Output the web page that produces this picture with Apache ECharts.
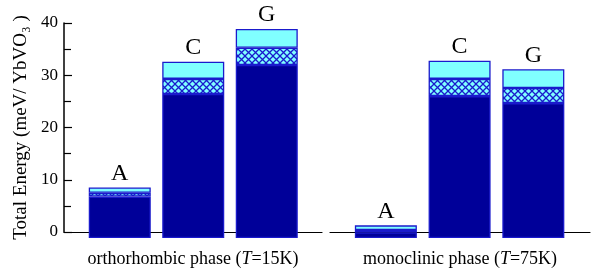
<!DOCTYPE html>
<html>
<head>
<meta charset="utf-8">
<script src="https://cdn.jsdelivr.net/npm/echarts@6/dist/echarts.min.js"></script>
<style>
  html, body { margin: 0; padding: 0; background: #fff; }
  #main { width: 597px; height: 273px; }
</style>
</head>
<body>
<div id="main"></div>
<script>
var categories = ['A', 'C', 'G'];
// orthorhombic phase (T=15K)
var orthoBase = [7.7, 26.8, 32.2];
var orthoHatch = [0.7, 2.8, 3.2];
var orthoTop = [1.0, 3.2, 3.5];
// monoclinic phase (T=75K)
var monoBase = [1.05, 26.4, 25.1];
var monoHatch = [0.45, 3.2, 2.8];
var monoTop = [0.85, 3.4, 3.5];
var yTicks = [0, 10, 20, 30, 40];

var navy = '#000099';
var cyan = '#80ffff';
var edge = '#1a1acc';
var serif = '"Liberation Serif", "DejaVu Serif", serif';

// cross hatch fill
var hc = document.createElement('canvas');
hc.width = 7; hc.height = 7;
var ctx = hc.getContext('2d');
ctx.fillStyle = cyan;
ctx.fillRect(0, 0, 7, 7);
ctx.strokeStyle = '#1a1acc';
ctx.lineWidth = 1.3;
ctx.beginPath();
ctx.moveTo(0, 0); ctx.lineTo(7, 7);
ctx.moveTo(7, 0); ctx.lineTo(0, 7);
ctx.stroke();
var hatch = { image: hc, repeat: 'repeat' };

function seg(name, vals, stack, idx, fill, withLabel) {
  var s = {
    name: name,
    type: 'bar',
    stack: stack,
    xAxisIndex: idx,
    yAxisIndex: idx,
    barWidth: 62,
    data: vals,
    itemStyle: { color: fill, borderColor: edge, borderWidth: 1.3 },
    emphasis: { disabled: true }
  };
  if (withLabel) {
    s.label = {
      show: true,
      position: 'top',
      distance: 2,
      fontFamily: serif,
      fontSize: 24,
      color: '#000',
      formatter: function (p) { return categories[p.dataIndex]; }
    };
  }
  return s;
}

var chart = echarts.init(document.getElementById('main'));

var rich = {
  n: { fontFamily: serif, fontSize: 18, color: '#000' },
  i: { fontFamily: serif, fontSize: 18, fontStyle: 'italic', color: '#000' }
};

function frameX(grid, name) {
  return {
    gridIndex: grid,
    type: 'value',
    min: 0, max: 1,
    axisLine: { show: true, lineStyle: { color: '#000', width: 1.2 } },
    axisTick: { show: false },
    axisLabel: { show: false },
    splitLine: { show: false },
    name: name,
    nameLocation: 'middle',
    nameGap: 18,
    nameTextStyle: { rich: rich }
  };
}

function barX(grid) {
  return {
    gridIndex: grid,
    type: 'category',
    data: categories,
    show: false
  };
}

function hiddenY(grid) {
  return {
    gridIndex: grid,
    type: 'value',
    min: yTicks[0],
    max: yTicks[yTicks.length - 1],
    interval: 10,
    show: false
  };
}

var option = {
  animation: false,
  grid: [
    { left: 64, right: 275, top: 23, bottom: 35 },
    { left: 83, width: 220.5, top: 23, bottom: 35 },
    { left: 330, right: 7, top: 23, bottom: 35 },
    { left: 349, width: 221.2, top: 23, bottom: 35 }
  ],
  xAxis: [
    frameX(0, '{n|orthorhombic phase (}{i|T}{n|=15K)}'),
    barX(1),
    frameX(2, '{n|monoclinic phase (}{i|T}{n|=75K)}'),
    barX(3)
  ],
  yAxis: [
    {
      gridIndex: 0,
      type: 'value',
      min: yTicks[0],
      max: yTicks[yTicks.length - 1],
      interval: 10,
      axisLine: { show: true, lineStyle: { color: '#000', width: 1.5 } },
      axisTick: { show: true, inside: true, length: 8, lineStyle: { color: '#000', width: 1.2 } },
      minorTick: { show: true, splitNumber: 2, length: 7, lineStyle: { color: '#000', width: 1.2 } },
      axisLabel: { fontFamily: serif, fontSize: 17, color: '#000', margin: 6 },
      splitLine: { show: false },
      name: 'Total Energy (meV/ YbVO₃ )',
      nameLocation: 'middle',
      nameGap: 33,
      nameTextStyle: { fontFamily: serif, fontSize: 19, color: '#000' }
    },
    hiddenY(1),
    hiddenY(2),
    hiddenY(3)
  ],
  series: [
    seg('ortho base', orthoBase, 'o', 1, navy, false),
    seg('ortho hatch', orthoHatch, 'o', 1, hatch, false),
    seg('ortho top', orthoTop, 'o', 1, cyan, true),
    seg('mono base', monoBase, 'm', 3, navy, false),
    seg('mono hatch', monoHatch, 'm', 3, hatch, false),
    seg('mono top', monoTop, 'm', 3, cyan, true)
  ]
};

chart.setOption(option);
</script>
</body>
</html>
